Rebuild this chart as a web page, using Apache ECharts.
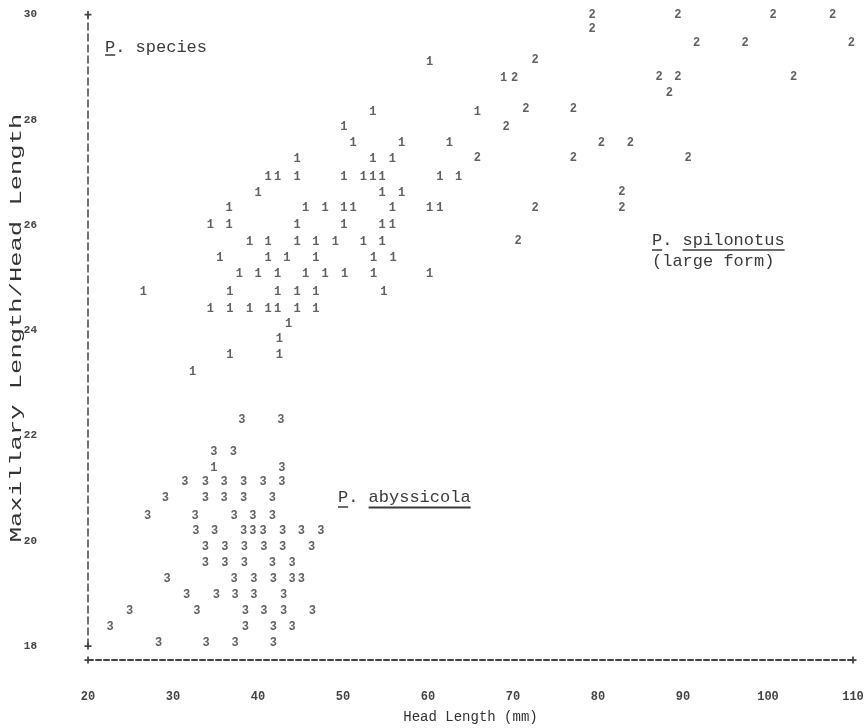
<!DOCTYPE html>
<html>
<head>
<meta charset="utf-8">
<script src="https://cdn.jsdelivr.net/npm/echarts@6/dist/echarts.min.js"></script>
<style>
  html, body { margin: 0; padding: 0; background: #ffffff; }
  #chart { width: 867px; height: 728px; }
</style>
</head>
<body>
<div id="chart"></div>
<script>
// ---- Data (Head Length mm, Maxillary Length/Head Length) ----
const xTicks = [20, 30, 40, 50, 60, 70, 80, 90, 100, 110];
const yTicks = [18, 20, 22, 24, 26, 28, 30];

// Group "1": P. species
const species1 = [
  [60.2, 29.10], [68.9, 28.79],
  [53.5, 28.15], [65.8, 28.15],
  [50.1, 27.86],
  [51.2, 27.56], [56.9, 27.56], [62.5, 27.56],
  [44.6, 27.25], [53.5, 27.25], [55.8, 27.25],
  [41.2, 26.92], [42.3, 26.92], [44.6, 26.92], [50.1, 26.92], [52.4, 26.92], [53.5, 26.92], [54.6, 26.92], [61.4, 26.92], [63.6, 26.92],
  [40.0, 26.61], [54.6, 26.61], [56.9, 26.61],
  [36.6, 26.32], [45.6, 26.32], [47.9, 26.32], [50.1, 26.32], [51.2, 26.32], [55.8, 26.32], [60.2, 26.32], [61.4, 26.32],
  [34.4, 26.00], [36.6, 26.00], [44.6, 26.00], [50.1, 26.00], [54.6, 26.00], [55.8, 26.00],
  [39.0, 25.68], [41.2, 25.68], [44.6, 25.68], [46.8, 25.68], [49.1, 25.68], [52.4, 25.68], [54.6, 25.68],
  [35.5, 25.37], [41.2, 25.37], [43.4, 25.37], [46.8, 25.37], [53.6, 25.37], [55.9, 25.37],
  [37.8, 25.07], [40.0, 25.07], [42.3, 25.07], [45.6, 25.07], [47.9, 25.07], [50.2, 25.07], [53.6, 25.07], [60.2, 25.07],
  [26.5, 24.73], [36.7, 24.73], [42.3, 24.73], [44.6, 24.73], [46.8, 24.73], [54.8, 24.73],
  [34.4, 24.41], [36.7, 24.41], [39.0, 24.41], [41.2, 24.41], [42.3, 24.41], [44.6, 24.41], [46.8, 24.41],
  [43.6, 24.12],
  [42.5, 23.84],
  [36.7, 23.53], [42.5, 23.53],
  [32.3, 23.21],
  [34.8, 21.39]
];

// Group "2": P. spilonotus (large form)
const species2 = [
  [79.3, 30.0], [89.4, 30.0], [100.6, 30.0], [107.6, 30.0],
  [79.3, 29.72],
  [91.6, 29.45], [97.3, 29.45], [109.8, 29.45],
  [72.6, 29.13],
  [70.2, 28.79], [87.2, 28.81], [89.4, 28.81], [103.0, 28.81],
  [88.4, 28.50],
  [71.5, 28.20], [77.1, 28.20],
  [69.2, 27.87],
  [80.4, 27.56], [83.8, 27.56],
  [65.8, 27.28], [77.1, 27.28], [90.6, 27.28],
  [82.8, 26.63],
  [72.6, 26.33], [82.8, 26.33],
  [70.6, 25.70]
];

// Group "3": P. abyssicola
const species3 = [
  [38.1, 22.29], [42.7, 22.29],
  [34.8, 21.69], [37.1, 21.69],
  [42.8, 21.39],
  [31.4, 21.12], [33.8, 21.12], [36.0, 21.12], [38.3, 21.12], [40.6, 21.12], [42.8, 21.12],
  [29.1, 20.82], [33.8, 20.82], [36.0, 20.82], [38.3, 20.82], [41.7, 20.82],
  [27.0, 20.48], [32.6, 20.48], [37.2, 20.48], [39.4, 20.48], [41.7, 20.48],
  [32.7, 20.18], [34.9, 20.18], [38.3, 20.18], [39.4, 20.18], [40.6, 20.18], [42.9, 20.18], [45.1, 20.18], [47.4, 20.18],
  [33.8, 19.88], [36.1, 19.88], [38.4, 19.88], [40.7, 19.88], [42.9, 19.88], [46.3, 19.88],
  [33.8, 19.58], [36.1, 19.58], [38.4, 19.58], [41.7, 19.58], [44.0, 19.58],
  [29.3, 19.27], [37.2, 19.27], [39.5, 19.27], [41.8, 19.27], [44.0, 19.27], [45.1, 19.27],
  [31.6, 18.96], [35.1, 18.96], [37.3, 18.96], [39.5, 18.96], [43.0, 18.96],
  [24.9, 18.66], [32.8, 18.66], [38.5, 18.66], [40.7, 18.66], [43.0, 18.66], [46.4, 18.66],
  [22.6, 18.36], [38.5, 18.36], [41.8, 18.36], [44.0, 18.36],
  [28.3, 18.05], [33.9, 18.05], [37.3, 18.05], [41.8, 18.05]
];

const seriesSymbols = ['1', '2', '3'];

// ---- Styling ----
const MONO = '"Liberation Mono", "DejaVu Sans Mono", monospace';
const INK = '#3a3a3a';
const PLUS = 'path://M3,0h2v3h3v2h-3v3h-2v-3h-3v-2h3z';

function makeSeries(name, data) {
  return {
    type: 'scatter',
    name: name,
    data: data,
    symbol: 'circle',
    symbolSize: 2,
    clip: false,
    silent: true,
    itemStyle: { color: 'rgba(0,0,0,0)' },
    emphasis: { disabled: true },
    labelLayout: { hideOverlap: false },
    label: {
      show: true,
      position: 'inside',
      formatter: name,
      fontFamily: MONO,
      fontSize: 12,
      fontWeight: 'bold',
      color: INK
    }
  };
}

const chart = echarts.init(document.getElementById('chart'), null, { renderer: 'canvas' });

const annFont = '17px ' + MONO;
const adv = 17 * 0.6;
function underline(x1, x2, y, w) {
  return { type: 'line', shape: { x1: x1, y1: y, x2: x2, y2: y }, style: { stroke: INK, lineWidth: w || 1.5 } };
}
function label(text, x, y) {
  return { type: 'text', x: x, y: y, style: { text: text, font: annFont, fill: INK, verticalAlign: 'middle' } };
}

const graphics = [
  label('P. species', 105, 47), underline(105, 105 + adv, 55),
  label('P. abyssicola', 338, 497), underline(338, 338 + adv, 507), underline(338 + 3 * adv, 338 + 13 * adv, 507.5, 2),
  label('P. spilonotus', 652, 240), underline(652, 652 + adv, 250), underline(652 + 3 * adv, 652 + 13 * adv, 250),
  label('(large form)', 652, 261),
  {
    type: 'text', x: 16, y: 328, rotation: Math.PI / 2, scaleX: 1.5,
    style: { text: 'Maxillary Length/Head Length', font: '17px ' + MONO, fill: '#333', align: 'center', verticalAlign: 'middle' }
  }
];

chart.setOption({
  backgroundColor: '#ffffff',
  animation: false,
  grid: { left: 88, right: 14, top: 14.5, bottom: 82, containLabel: false, outerBoundsMode: 'none' },
  xAxis: {
    type: 'value',
    min: xTicks[0], max: xTicks[xTicks.length - 1], interval: 10,
    offset: 14,
    axisLine: { show: true, symbol: [PLUS, PLUS], symbolSize: [7, 7],
      lineStyle: { color: '#444', width: 2, type: [5, 3] } },
    axisTick: { show: false },
    splitLine: { show: false },
    axisLabel: { margin: 31, fontFamily: MONO, fontSize: 12, fontWeight: 'bold', color: '#444' },
    name: 'Head Length (mm)', nameLocation: 'middle', nameGap: 50,
    nameTextStyle: { fontFamily: MONO, fontSize: 14, color: '#333' }
  },
  yAxis: {
    type: 'value',
    min: yTicks[0], max: yTicks[yTicks.length - 1], interval: 2,
    axisLine: { show: true, symbol: [PLUS, PLUS], symbolSize: [7, 7],
      lineStyle: { color: '#444', width: 1.5, type: [7, 4] } },
    axisTick: { show: false },
    splitLine: { show: false },
    axisLabel: { margin: 51, fontFamily: MONO, fontSize: 11, fontWeight: 'bold', color: '#444' }
  },
  series: [
    makeSeries(seriesSymbols[0], species1),
    makeSeries(seriesSymbols[1], species2),
    makeSeries(seriesSymbols[2], species3)
  ],
  graphic: graphics
});
</script>
</body>
</html>
